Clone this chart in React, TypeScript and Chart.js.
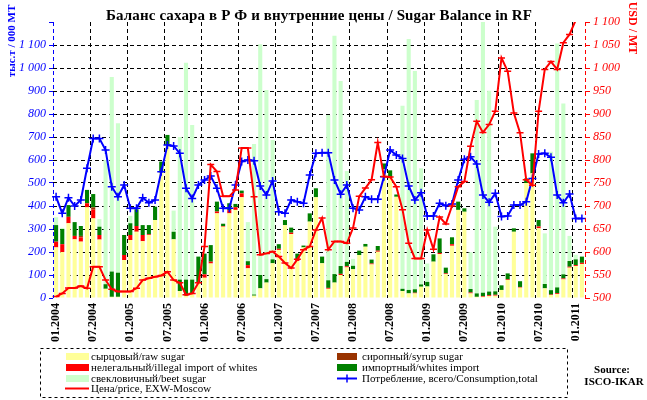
import React, { useEffect, useRef } from 'react';
import { Chart, registerables } from 'chart.js';

Chart.register(...registerables);

const FONT = "'Liberation Serif', 'Times New Roman', serif";

// Monthly categories, 01.2004 .. 02.2011
const years = ['2004', '2005', '2006', '2007', '2008', '2009', '2010', '2011'];
const monthNums = ['01', '02', '03', '04', '05', '06', '07', '08', '09', '10', '11', '12'];
const labels: string[] = years.flatMap((y) => monthNums.map((m) => `${m}.${y}`)).slice(0, 86);

// Sugar balance, thousand tonnes
const rawSugar = [
  220, 200, 325, 255, 245, 394, 346, 254, 40, 5, 5, 165,
  252, 288, 247, 274, 339, 545, 665, 255, 30, 10, 20, 64,
  88, 150, 368, 310, 368, 383, 438, 129, 10, 42, 67, 151,
  209, 317, 278, 161, 220, 332, 438, 151, 40, 67, 100, 133,
  125, 187, 223, 146, 201, 560, 520, 440, 30, 20, 20, 49,
  50, 158, 191, 104, 227, 383, 375, 20, 5, 5, 8, 10,
  35, 78, 288, 45, 500, 542, 303, 42, 13, 17, 81, 132,
  139, 148,
];
const illegalImport = [
  25, 34, 28, 15, 18, 18, 38, 20, 0, 0, 0, 22,
  22, 25, 27, 3, 0, 0, 0, 0, 0, 0, 0, 0,
  15, 8, 8, 3, 14, 12, 17, 14, 0, 0, 0, 0,
  5, 0, 6, 6, 0, 0, 0, 0, 4, 0, 5, 5,
  0, 0, 0, 4, 5, 0, 0, 0, 0, 0, 3, 0,
  0, 0, 5, 3, 7, 0, 0, 4, 0, 3, 4, 4,
  0, 3, 0, 3, 0, 0, 8, 0, 2, 4, 4, 4,
  4, 5,
];
const syrupSugar = [
  0, 0, 0, 0, 7, 0, 10, 0, 0, 0, 0, 0,
  0, 0, 0, 0, 0, 0, 0, 0, 0, 0, 0, 0,
  0, 0, 0, 0, 0, 0, 0, 0, 0, 0, 0, 0,
  0, 0, 0, 0, 0, 0, 0, 0, 0, 0, 0, 0,
  0, 0, 0, 0, 0, 0, 0, 0, 0, 0, 0, 0,
  0, 0, 0, 0, 0, 0, 0, 0, 0, 0, 0, 0,
  0, 0, 0, 0, 0, 0, 0, 0, 0, 0, 0, 0,
  0, 0,
];
const whitesImport = [
  72, 66, 51, 60, 43, 58, 58, 36, 20, 110, 105, 87,
  51, 73, 43, 40, 58, 48, 44, 33, 50, 70, 60, 116,
  90, 72, 43, 10, 30, 14, 12, 17, 5, 58, 15, 17,
  20, 22, 22, 26, 8, 36, 39, 29, 33, 37, 34, 19,
  15, 19, 12, 17, 20, 25, 35, 10, 10, 15, 15, 10,
  20, 32, 63, 25, 30, 36, 15, 15, 15, 15, 16, 15,
  20, 26, 15, 25, 20, 87, 28, 19, 19, 25, 18, 25,
  25, 27,
];
const beetSugar = [
  34, 5, 0, 0, 0, 0, 0, 33, 540, 846, 650, 0,
  32, 0, 0, 0, 0, 0, 0, 92, 620, 943, 672, 0,
  0, 0, 0, 0, 0, 0, 0, 170, 655, 1003, 822, 519,
  0, 0, 0, 0, 0, 0, 0, 0, 719, 1036, 804, 395,
  30, 0, 0, 0, 0, 0, 0, 0, 796, 1091, 949, 505,
  80, 0, 0, 0, 0, 0, 0, 160, 841, 1227, 873, 281,
  0, 0, 0, 0, 0, 0, 0, 220, 602, 1060, 743, 109,
  20, 0,
];
const consumption = [
  440, 368, 436, 400, 426, 564, 694, 694, 643, 484, 440, 491,
  390, 390, 436, 414, 426, 549, 665, 661, 629, 477, 433, 491,
  513, 530, 477, 390, 390, 491, 593, 600, 597, 487, 448, 509,
  375, 368, 426, 419, 412, 535, 629, 632, 632, 513, 451, 491,
  390, 383, 440, 429, 429, 527, 643, 622, 607, 487, 426, 458,
  357, 357, 412, 401, 409, 513, 603, 614, 583, 448, 416, 455,
  354, 357, 404, 404, 419, 520, 626, 629, 612, 448, 414, 452,
  346, 346,
];
// Price, USD per tonne, EXW-Moscow
const price: (number | null)[] = [
  503, 510, 522, 522, 526, 521, 568, 568, 539, 519, 514, 514,
  514, 521, 539, 543, 546, 549, 557, 539, 533, 507, 510, 533,
  612, 790, 775, 721, 721, 735, 826, 826, 720, 594, 597, 601,
  590, 576, 565, 584, 605, 612, 648, 674, 605, 623, 623, 619,
  652, 721, 739, 757, 838, 764, 763, 742, 692, 619, 586, 586,
  648, 606, 676, 661, 700, 742, 753, 830, 884, 860, 877, 906,
  1022, 993, 902, 859, 757, 745, 906, 997, 1014, 997, 1055, 1073,
  1104, null,
];

const TITLE = 'Баланс сахара в Р Ф и внутренние цены / Sugar Balance in RF';

const COLORS = {
  raw: '#FFFF99',
  illegal: '#FF0000',
  syrup: '#993300',
  whites: '#008000',
  beet: '#CCFFCC',
  price: '#FF0000',
  cons: '#0000FF',
};

const fmt = (v: number) => String(v).replace(/\B(?=(\d{3})+(?!\d))/g, ' ');

const decor = {
  id: 'decor',
  beforeDraw(chart: any) {
    const { ctx, width, height } = chart;
    ctx.save();
    ctx.fillStyle = '#FFFFFF';
    ctx.fillRect(0, 0, width, height);
    ctx.restore();
  },
  afterDraw(chart: any) {
    const { ctx, chartArea: a } = chart;
    ctx.save();

    // axis lines
    ctx.lineWidth = 1;
    ctx.setLineDash([4, 3]);
    ctx.strokeStyle = COLORS.cons;
    ctx.beginPath();
    ctx.moveTo(Math.round(a.left) + 0.5, a.top);
    ctx.lineTo(Math.round(a.left) + 0.5, a.bottom);
    ctx.stroke();
    ctx.strokeStyle = COLORS.price;
    ctx.beginPath();
    ctx.moveTo(Math.round(a.right) + 0.5, a.top);
    ctx.lineTo(Math.round(a.right) + 0.5, a.bottom);
    ctx.stroke();
    ctx.setLineDash([]);

    // title
    ctx.fillStyle = '#000';
    ctx.font = `bold 15px ${FONT}`;
    ctx.textAlign = 'center';
    ctx.textBaseline = 'alphabetic';
    const w = ctx.measureText(TITLE).width;
    const target = 426;
    if (w < target && 'letterSpacing' in ctx) {
      (ctx as any).letterSpacing = `${((target - w) / (TITLE.length - 1)).toFixed(2)}px`;
    }
    ctx.fillText(TITLE, 319, 20);
    if ('letterSpacing' in ctx) (ctx as any).letterSpacing = '0px';

    // axis titles
    ctx.save();
    ctx.translate(12, 41);
    ctx.rotate(-Math.PI / 2);
    ctx.fillStyle = COLORS.cons;
    ctx.font = `bold 11px ${FONT}`;
    ctx.textBaseline = 'middle';
    ctx.fillText('тыс.т / 000 MT', 0, 0);
    ctx.restore();

    ctx.save();
    ctx.translate(632, 28);
    ctx.rotate(Math.PI / 2);
    ctx.fillStyle = COLORS.price;
    ctx.font = `bold 12px ${FONT}`;
    ctx.textBaseline = 'middle';
    ctx.fillText('USD / MT', 0, 0);
    ctx.restore();

    // legend box
    ctx.strokeStyle = '#000';
    ctx.lineWidth = 1;
    ctx.setLineDash([3, 3]);
    ctx.strokeRect(40.5, 348.5, 527, 49);
    ctx.setLineDash([]);

    ctx.font = `11px ${FONT}`;
    ctx.textAlign = 'left';
    ctx.textBaseline = 'middle';
    const swatch = (x: number, y: number, c: string, text: string, ty: number) => {
      ctx.fillStyle = c;
      ctx.fillRect(x, y, 23, 7);
      ctx.fillStyle = '#000';
      ctx.fillText(text, x + 25, ty);
    };
    swatch(66, 353, COLORS.raw, 'сырцовый/raw sugar', 357.5);
    swatch(66, 364, COLORS.illegal, 'нелегальный/illegal import of whites', 368.5);
    swatch(66, 375, COLORS.beet, 'свекловичный/beet sugar', 379.5);
    ctx.strokeStyle = COLORS.price;
    ctx.lineWidth = 2;
    ctx.beginPath();
    ctx.moveTo(65, 388.5);
    ctx.lineTo(89, 388.5);
    ctx.stroke();
    ctx.fillStyle = '#000';
    ctx.fillText('Цена/price, EXW-Moscow', 91, 389.5);

    const swatch2 = (x: number, y: number, c: string, text: string, ty: number) => {
      ctx.fillStyle = c;
      ctx.fillRect(x, y, 20, 7);
      ctx.fillStyle = '#000';
      ctx.fillText(text, x + 25, ty);
    };
    swatch2(337, 353, COLORS.syrup, 'сиропный/syrup sugar', 357.5);
    swatch2(337, 364, COLORS.whites, 'импортный/whites import', 368.5);
    ctx.strokeStyle = COLORS.cons;
    ctx.lineWidth = 2;
    ctx.beginPath();
    ctx.moveTo(337, 378.5);
    ctx.lineTo(357, 378.5);
    ctx.stroke();
    ctx.lineWidth = 1.5;
    ctx.beginPath();
    ctx.moveTo(347, 374.5);
    ctx.lineTo(347, 382.5);
    ctx.stroke();
    ctx.fillStyle = '#000';
    ctx.fillText('Потребление, всего/Consumption,total', 362, 379.5);

    // source
    ctx.font = `bold 11px ${FONT}`;
    ctx.textAlign = 'center';
    ctx.fillText('Source:', 612, 370);
    ctx.fillText('ISCO-IKAR', 614, 382);

    ctx.restore();
  },
};

export default function App() {
  const ref = useRef<HTMLCanvasElement>(null);

  useEffect(() => {
    const barSet = (label: string, data: number[], color: string) => ({
      type: 'bar' as const,
      label,
      data,
      backgroundColor: color,
      borderWidth: 0,
      stack: 'balance',
      yAxisID: 'y',
      order: 2,
      barPercentage: 0.66,
      categoryPercentage: 1,
    });

    const chart = new Chart(ref.current!, {
      type: 'bar',
      data: {
        labels,
        datasets: [
          barSet('сырцовый/raw sugar', rawSugar, COLORS.raw),
          barSet('нелегальный/illegal import of whites', illegalImport, COLORS.illegal),
          barSet('сиропный/syrup sugar', syrupSugar, COLORS.syrup),
          barSet('импортный/whites import', whitesImport, COLORS.whites),
          barSet('свекловичный/beet sugar', beetSugar, COLORS.beet),
          {
            type: 'line' as const,
            label: 'Потребление, всего/Consumption,total',
            data: consumption,
            borderColor: COLORS.cons,
            backgroundColor: COLORS.cons,
            borderWidth: 2,
            pointStyle: 'cross',
            pointRadius: 4,
            pointBorderWidth: 1.5,
            pointBorderColor: COLORS.cons,
            tension: 0,
            stack: 'cons',
            yAxisID: 'y',
            order: 1,
          },
          {
            type: 'line' as const,
            label: 'Цена/price, EXW-Moscow',
            data: price,
            borderColor: COLORS.price,
            backgroundColor: COLORS.price,
            borderWidth: 2,
            pointStyle: 'line',
            pointRadius: 3.5,
            pointBorderWidth: 1.5,
            pointBorderColor: COLORS.price,
            tension: 0,
            yAxisID: 'y1',
            order: 0,
          },
        ] as any,
      },
      options: {
        animation: false,
        responsive: false,
        devicePixelRatio: 1,
        layout: { padding: { top: 22, left: 0, right: 0, bottom: 0 } },
        plugins: {
          legend: { display: false },
          title: { display: false },
          tooltip: { enabled: false },
        },
        scales: {
          x: {
            stacked: true,
            offset: true,
            grid: {
              offset: true,
              color: (c: any) => (c.index > 0 && c.index % 6 === 0 ? '#000000' : 'rgba(0,0,0,0)'),
              lineWidth: 1,
              drawTicks: false,
            },
            border: { display: false, dash: [4, 3] },
            ticks: {
              autoSkip: false,
              maxRotation: 90,
              minRotation: 90,
              padding: 5,
              color: '#000',
              font: { family: FONT, size: 12, weight: 'bold' },
              callback: (_v: any, i: number) => (i % 6 === 0 ? labels[i] : ''),
            },
            afterFit: (s: any) => {
              s.height = 102;
            },
          },
          y: {
            stacked: true,
            position: 'left',
            min: 0,
            max: 1200,
            ticks: {
              stepSize: 100,
              color: COLORS.cons,
              padding: 3,
              font: { family: FONT, size: 12, style: 'italic' },
              callback: (v: any) => (v === 1200 ? '' : fmt(v)),
            },
            grid: {
              color: (c: any) =>
                c.tick && c.tick.value > 0 && c.tick.value < 1200 ? '#000000' : 'rgba(0,0,0,0)',
              tickColor: COLORS.cons,
              tickLength: 4,
              lineWidth: 1,
            },
            border: { display: false, dash: [4, 3] },
            afterFit: (s: any) => {
              s.width = 53;
            },
          },
          y1: {
            position: 'right',
            min: 500,
            max: 1100,
            ticks: {
              stepSize: 50,
              color: COLORS.price,
              padding: 3,
              font: { family: FONT, size: 12, style: 'italic' },
              callback: (v: any) => fmt(v),
            },
            grid: {
              drawOnChartArea: false,
              tickColor: COLORS.price,
              tickLength: 5,
            },
            border: { display: false },
            afterFit: (s: any) => {
              s.width = 62;
            },
          },
        },
      } as any,
      plugins: [decor],
    });

    return () => chart.destroy();
  }, []);

  return (
    <div style={{ position: 'fixed', left: 0, top: 0, width: 647, height: 400, background: '#fff' }}>
      <canvas ref={ref} width={647} height={400} style={{ display: 'block', width: 647, height: 400 }} />
    </div>
  );
}
